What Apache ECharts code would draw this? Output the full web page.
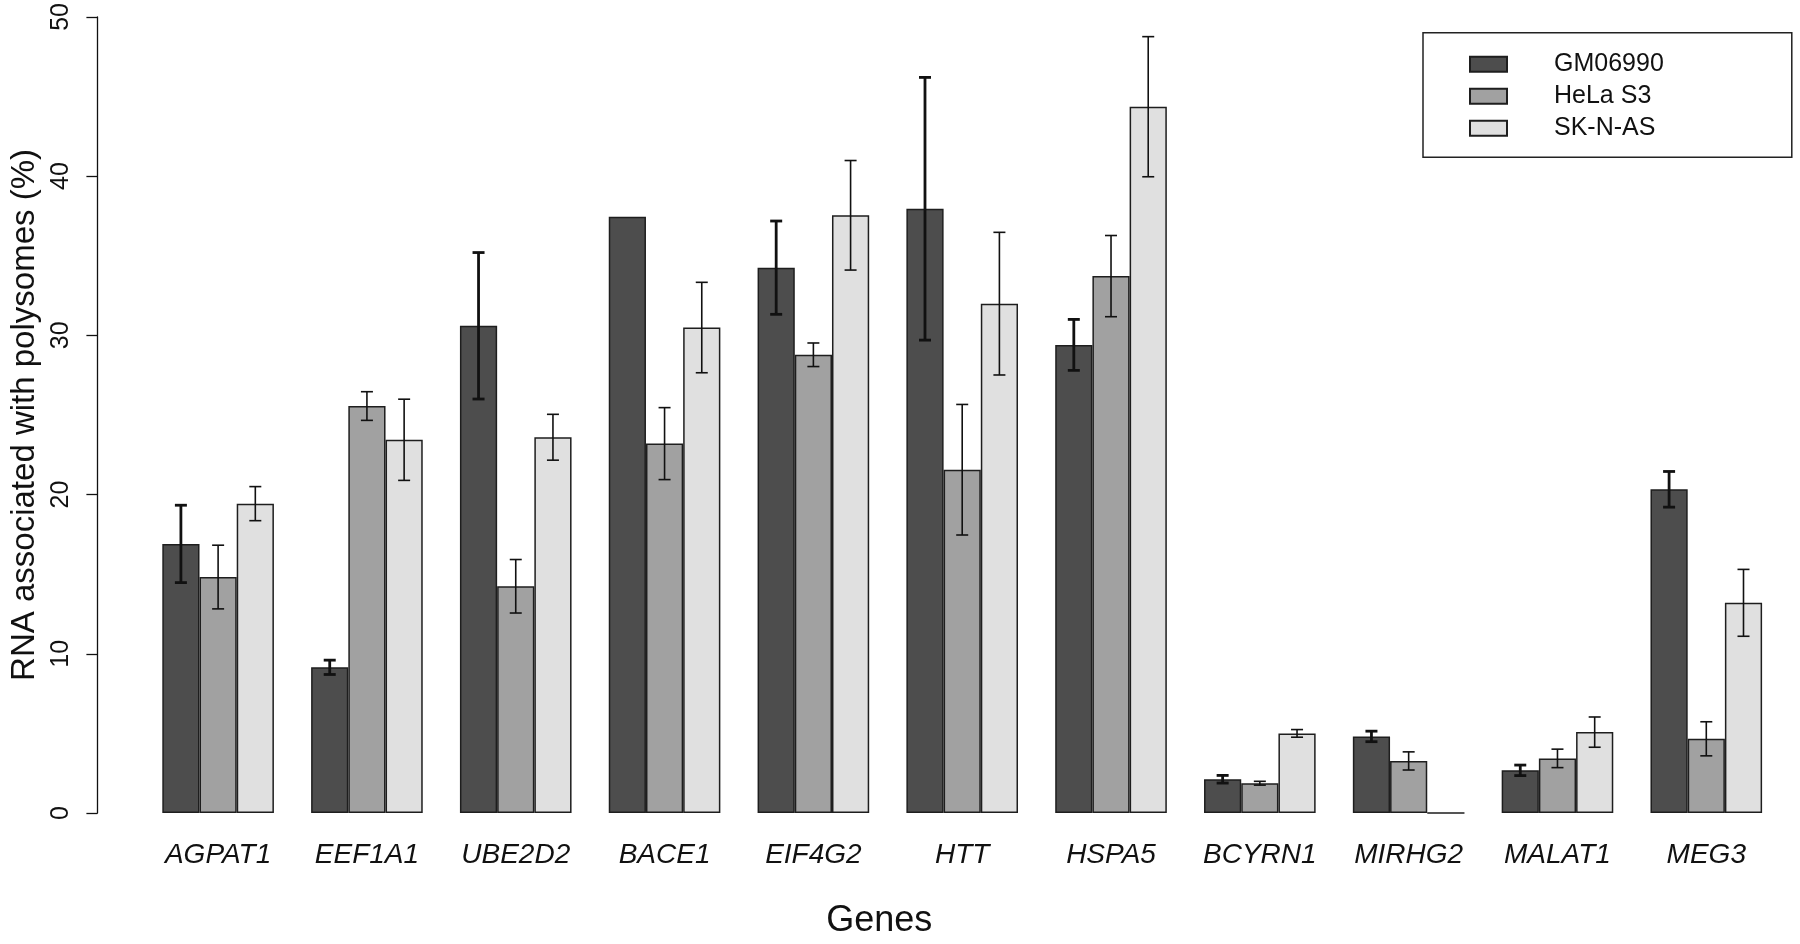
<!DOCTYPE html>
<html>
<head>
<meta charset="utf-8">
<script src="https://cdn.jsdelivr.net/npm/echarts@6/dist/echarts.min.js"></script>
<style>
html,body{margin:0;padding:0;background:#fff;}
#chart{width:1800px;height:944px;}
</style>
</head>
<body>
<div id="chart"></div>
<script>
const genes = ['AGPAT1','EEF1A1','UBE2D2','BACE1','EIF4G2','HTT','HSPA5','BCYRN1','MIRHG2','MALAT1','MEG3'];
const seriesNames = ['GM06990','HeLa S3','SK-N-AS'];
const gm06990 = [16.9, 9.15, 30.6, 37.45, 34.25, 37.95, 29.4, 2.12, 4.81, 2.68, 20.33];
const gm06990Err = [2.43, 0.45, 4.6, null, 2.93, 8.25, 1.6, 0.24, 0.33, 0.33, 1.12];
const helaS3 = [14.82, 25.56, 14.24, 23.2, 28.78, 21.56, 33.72, 1.87, 3.27, 3.43, 4.66];
const helaS3Err = [2.0, 0.9, 1.68, 2.26, 0.74, 4.1, 2.55, 0.12, 0.57, 0.58, 1.07];
const sknas = [19.43, 23.44, 23.6, 30.49, 37.54, 31.99, 44.36, 5.0, 0, 5.08, 13.2];
const sknasErr = [1.07, 2.55, 1.44, 2.84, 3.44, 4.48, 4.4, 0.24, null, 0.95, 2.1];
const yTicks = [0, 10, 20, 30, 40, 50];

const values = [gm06990, helaS3, sknas];
const errs = [gm06990Err, helaS3Err, sknasErr];
const colors = ['#4d4d4d', '#a1a1a1', '#e0e0e0'];
const errWidths = [2.8, 1.6, 1.6];
const FONT = '"Liberation Sans", Arial, Helvetica, sans-serif';

const chart = echarts.init(document.getElementById('chart'), null, {renderer: 'canvas'});

const barSeries = seriesNames.map((name, k) => ({
  name: name,
  type: 'bar',
  data: values[k],
  barGap: '0%',
  barCategoryGap: '25%',
  itemStyle: {color: colors[k], borderColor: '#1e1e1e', borderWidth: 1.5},
  emphasis: {disabled: true},
  z: 2
}));

const errSeries = seriesNames.map((name, k) => ({
  name: name + ' error',
  type: 'custom',
  data: values[k].map((v, i) => [i, v, errs[k][i]]).filter(d => d[2] != null),
  z: 5,
  silent: true,
  renderItem: function (params, api) {
    const idx = api.value(0), v = api.value(1), e = api.value(2);
    const c = api.coord([idx, v]);
    const band = api.size([1, 0])[0];
    const bw = band / 4;
    const x = c[0] + (k - 1) * bw;
    const hi = api.coord([idx, v + e])[1];
    const lo = api.coord([idx, v - e])[1];
    const cap = 6;
    const st = {stroke: '#111', lineWidth: errWidths[k]};
    return {
      type: 'group',
      children: [
        {type: 'line', shape: {x1: x, y1: hi, x2: x, y2: lo}, style: st},
        {type: 'line', shape: {x1: x - cap, y1: hi, x2: x + cap, y2: hi}, style: st},
        {type: 'line', shape: {x1: x - cap, y1: lo, x2: x + cap, y2: lo}, style: st}
      ]
    };
  }
}));

const option = {
  animation: false,
  backgroundColor: '#fff',
  grid: {left: 137.3, right: 19.3, top: 16.7, bottom: 128.3, containLabel: false},
  legend: {
    data: seriesNames,
    orient: 'vertical',
    left: 1423,
    top: 32.7,
    itemWidth: 37,
    itemHeight: 15,
    itemGap: 0,
    icon: 'rect',
    borderColor: '#222',
    borderWidth: 1.5,
    padding: [15.5, 128, 13, 46],
    textStyle: {fontFamily: FONT, fontSize: 25, color: '#111', lineHeight: 32, padding: [0, 0, 0, 42]},
    selectedMode: false
  },
  xAxis: {
    type: 'category',
    data: genes,
    axisLine: {show: false},
    axisTick: {show: false},
    axisLabel: {fontFamily: FONT, fontSize: 28, fontStyle: 'italic', color: '#111', margin: 28, interval: 0},
    name: 'Genes',
    nameLocation: 'middle',
    nameGap: 108,
    nameTextStyle: {fontFamily: FONT, fontSize: 36, color: '#111', verticalAlign: 'middle', align: 'center', padding: [0, 166, 0, 0]}
  },
  yAxis: {
    type: 'value',
    min: yTicks[0],
    max: yTicks[yTicks.length - 1],
    interval: yTicks[1] - yTicks[0],
    offset: 46.3,
    splitLine: {show: false},
    axisLine: {show: true, lineStyle: {color: '#111', width: 1.3}},
    axisTick: {show: true, length: 11, lineStyle: {color: '#111', width: 1.3}},
    axisLabel: {fontFamily: FONT, fontSize: 25, color: '#111', rotate: 90, align: 'center', verticalAlign: 'middle', margin: 36},
    name: 'RNA associated with polysomes (%)',
    nameLocation: 'middle',
    nameRotate: 90,
    nameGap: 66,
    nameTextStyle: {fontFamily: FONT, fontSize: 33, color: '#111', align: 'center', verticalAlign: 'middle'}
  },
  series: barSeries.concat(errSeries)
};
chart.setOption(option);
</script>
</body>
</html>
